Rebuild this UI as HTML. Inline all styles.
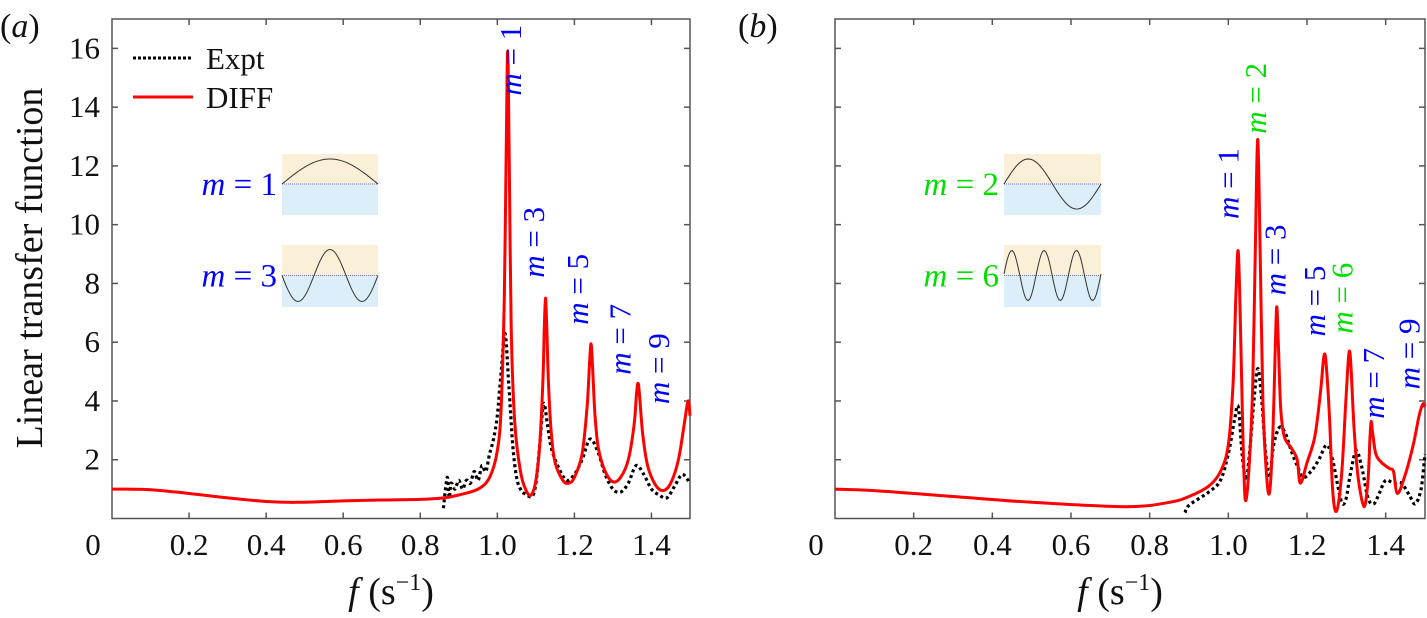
<!DOCTYPE html>
<html><head><meta charset="utf-8">
<style>
html,body{margin:0;padding:0;background:#fff;}
svg{display:block;}
svg text{font-family:"Liberation Serif","Times New Roman",serif;}
</style></head>
<body>
<svg id="fig" width="1427" height="618" viewBox="0 0 1427 618" xmlns="http://www.w3.org/2000/svg" font-family="Liberation Serif, serif">
</svg>
<script>
// ---- data ----
const xTicks = [0, 0.2, 0.4, 0.6, 0.8, 1.0, 1.2, 1.4];
const xTickLabels = ["0", "0.2", "0.4", "0.6", "0.8", "1.0", "1.2", "1.4"];
const yTicks = [2, 4, 6, 8, 10, 12, 14, 16];
const yTickLabels = ["2", "4", "6", "8", "10", "12", "14", "16"];

const aDiffF = [0,0.1,0.2,0.3,0.4,0.48,0.6,0.7,0.8,0.86,0.9,0.95,0.98,1.0,1.01,1.018,1.023,1.027,1.031,1.036,1.045,1.06,1.075,1.088,1.1,1.11,1.118,1.122,1.125,1.128,1.133,1.14,1.15,1.17,1.185,1.2,1.22,1.233,1.239,1.243,1.247,1.253,1.262,1.28,1.3,1.32,1.34,1.355,1.361,1.365,1.369,1.377,1.39,1.41,1.43,1.45,1.47,1.485,1.495,1.5];
const aDiffV = [1.0,0.98,0.85,0.7,0.58,0.55,0.6,0.63,0.65,0.7,0.8,1.0,1.4,2.3,3.8,7.5,12.5,15.9,12,6.5,3.3,1.6,0.95,0.8,1.3,2.5,4.6,6.5,7.5,6.6,4.5,2.9,1.9,1.3,1.2,1.4,2.2,3.8,5.2,5.95,5.2,3.6,2.4,1.6,1.25,1.4,2.0,3.2,4.2,4.6,4.2,2.9,1.8,1.15,0.95,1.2,2.0,3.2,4.0,3.5];
const aExptF = [0.86,0.87,0.875,0.88,0.89,0.9,0.91,0.92,0.93,0.94,0.95,0.96,0.97,0.98,0.99,1.0,1.01,1.02,1.03,1.04,1.05,1.06,1.07,1.09,1.1,1.11,1.12,1.13,1.14,1.16,1.18,1.2,1.22,1.24,1.26,1.28,1.3,1.32,1.34,1.36,1.38,1.4,1.42,1.44,1.46,1.48,1.5];
const aExptV = [0.35,1.4,0.7,1.2,1.0,1.3,1.0,1.3,1.2,1.6,1.3,1.8,1.6,2.2,2.7,3.5,5,6.3,4.5,2.5,1.4,1.0,0.85,0.75,1.2,2.5,3.9,3.2,2.4,1.7,1.3,1.5,2.0,2.7,2.3,1.5,1.0,0.9,1.2,1.8,1.5,1.0,0.8,0.7,1.1,1.5,1.2];

const bDiffF = [0,0.1,0.3,0.5,0.74,0.85,0.9,0.95,0.98,1.0,1.012,1.019,1.025,1.031,1.037,1.043,1.052,1.062,1.069,1.075,1.081,1.088,1.097,1.105,1.113,1.119,1.123,1.127,1.133,1.142,1.16,1.175,1.183,1.2,1.22,1.235,1.241,1.245,1.249,1.257,1.265,1.275,1.288,1.298,1.304,1.308,1.312,1.32,1.33,1.345,1.355,1.36,1.363,1.367,1.375,1.39,1.41,1.42,1.43,1.45,1.47,1.485,1.495,1.5];
const bDiffV = [1.0,0.95,0.75,0.55,0.4,0.55,0.75,1.1,1.6,2.5,4.6,7.5,9.1,6.5,2.8,0.65,1.6,4.5,9.5,12.9,9.0,4.0,1.5,0.9,2.8,5.6,7.2,6.0,3.8,2.8,2.4,2.0,1.2,1.9,2.8,4.4,5.3,5.6,5.2,3.5,1.0,0.25,1.5,3.8,5.2,5.7,5.1,3.0,1.4,0.4,1.3,2.7,3.3,2.9,2.2,1.9,1.7,1.6,0.85,1.5,2.5,3.5,3.9,3.8];
const bExptF = [0.89,0.9,0.95,0.98,1.0,1.015,1.025,1.035,1.045,1.055,1.065,1.075,1.085,1.095,1.105,1.115,1.13,1.145,1.16,1.175,1.19,1.21,1.23,1.25,1.265,1.28,1.29,1.3,1.31,1.325,1.34,1.355,1.37,1.385,1.4,1.42,1.44,1.46,1.475,1.49,1.5];
const bExptV = [0.2,0.45,0.9,1.3,2.2,3.3,3.8,2.2,1.3,2.4,4,5.1,4,2.2,1.4,2.5,3.1,2.9,2.3,1.8,1.4,1.6,2.0,2.5,2.0,1.0,0.5,0.7,1.5,2.3,1.7,0.7,0.5,0.9,1.3,1.2,1.2,0.8,0.5,1.0,2.2];

const aModeLabels = ["1","3","5","7","9"];
const aModeF = [1.035,1.095,1.21,1.32,1.42];
const aModeY = [15.6,9.4,7.8,6.1,5.1];
const bModeLabels = ["1","2","3","5","6","7","9"];
const bModeF = [1.0,1.07,1.12,1.22,1.29,1.37,1.46];
const bModeY = [11.4,14.3,8.8,7.4,7.5,4.6,5.6];
const bModeColors = ["blue","#00e000","blue","blue","#00e000","blue","blue"];

// ---- drawing ----
const NS = "http://www.w3.org/2000/svg";
const svg = document.getElementById("fig");
function mk(tag, attrs, parent) {
  const e = document.createElementNS(NS, tag);
  for (const k in attrs) e.setAttribute(k, attrs[k]);
  (parent || svg).appendChild(e);
  return e;
}
const FONT = "Liberation Serif, Times New Roman, serif";
const Y0 = 518.5, YTOP = 19, YMAX = 17;

function smoothPath(P) {
  let d = "M" + P[0][0].toFixed(1) + "," + P[0][1].toFixed(1);
  for (let i = 0; i < P.length - 1; i++) {
    const p0 = P[Math.max(0, i-1)], p1 = P[i], p2 = P[i+1], p3 = P[Math.min(P.length-1, i+2)];
    const k = 1/6;
    const c1 = [p1[0] + (p2[0]-p0[0])*k, p1[1] + (p2[1]-p0[1])*k];
    const c2 = [p2[0] - (p3[0]-p1[0])*k, p2[1] - (p3[1]-p1[1])*k];
    d += "C" + c1[0].toFixed(1) + "," + c1[1].toFixed(1) + " " + c2[0].toFixed(1) + "," + c2[1].toFixed(1) + " " + p2[0].toFixed(1) + "," + p2[1].toFixed(1);
  }
  return d;
}

function panel(id, left, right, diffF, diffV, exptF, exptV, showY) {
  const g = mk("g", {});
  
  
  const xs = f => left + (right - left) * f / 1.5;
  const ys = v => Y0 - (Y0 - YTOP) * v / YMAX;
  const fr = mk("rect", {x:left, y:YTOP, width:right-left, height:Y0-YTOP, fill:"none", stroke:"#555", "stroke-width":1.5}, g);
  
  
  xTicks.forEach((t, i) => {
    const x = xs(t);
    if (i > 0) {
      mk("line", {x1:x, x2:x, y1:Y0, y2:Y0-6, stroke:"#555", "stroke-width":1.5}, g);
      mk("line", {x1:x, x2:x, y1:YTOP, y2:YTOP+6, stroke:"#555", "stroke-width":1.5}, g);
    }
    const tl = mk("text", {x: i === 0 ? x - 19 : x, y: 555, "font-size":31, "font-family":FONT, "text-anchor":"middle", fill:"#111"}, g);
    tl.textContent = xTickLabels[i];
    
    
  });
  yTicks.forEach((t, i) => {
    const y = ys(t);
    mk("line", {x1:left, x2:left+6, y1:y, y2:y, stroke:"#555", "stroke-width":1.5}, g);
    mk("line", {x1:right, x2:right-6, y1:y, y2:y, stroke:"#555", "stroke-width":1.5}, g);
    if (showY) {
      const tl = mk("text", {x:100, y:y+10, "font-size":31, "font-family":FONT, "text-anchor":"end", fill:"#111"}, g);
      tl.textContent = yTickLabels[i];
      
      
    }
  });
  const xt = mk("text", {x:(left+right)/2 - 10, y:604, "font-size":38, "font-family":FONT, "text-anchor":"middle", fill:"#111"}, g);
  xt.innerHTML = '<tspan font-style="italic">f</tspan> (s<tspan dy="-14" font-size="24">−1</tspan><tspan dy="14">)</tspan>';
  
  
  const pts = (F, V) => F.map((f, i) => [xs(f), ys(V[i])]);
  const ex = mk("path", {d:smoothPath(pts(exptF, exptV)), fill:"none", stroke:"#000", "stroke-width":3.2, "stroke-dasharray":"3 3"}, g);
  
  
  const df = mk("path", {d:smoothPath(pts(diffF, diffV)), fill:"none", stroke:"#f00", "stroke-width":3, "stroke-linejoin":"round"}, g);
  
  
  return {g, xs, ys};
}

function modeLabel(parent, x, y, n, color) {
  x += 10;
  const t = mk("text", {x:x, y:y, "font-size":31, "font-family":FONT, "text-anchor":"middle", fill:color, transform:"rotate(-90 "+x+" "+y+")"}, parent);
  t.innerHTML = '<tspan font-style="italic">m</tspan> = ' + n;
  
  
}

function inset(parent, x, y, w, h, water, fn, amp, label, color) {
  const g = mk("g", {}, parent);
  
  
  mk("rect", {x:x, y:y, width:w, height:water-y, fill:"#faf0d8"}, g);
  mk("rect", {x:x, y:water, width:w, height:y+h-water, fill:"#dbeef9"}, g);
  mk("line", {x1:x, x2:x+w, y1:water, y2:water, stroke:"#7070e0", "stroke-width":1, "stroke-dasharray":"1 1"}, g);
  let d = "";
  for (let i = 0; i <= 60; i++) {
    const u = i / 60;
    d += (i ? "L" : "M") + (x + u*w).toFixed(1) + "," + (water - amp*fn(u)).toFixed(1);
  }
  mk("path", {d:d, fill:"none", stroke:"#333", "stroke-width":1}, g);
  const t = mk("text", {x:x-5, y:water+11, "font-size":33, "font-family":FONT, "text-anchor":"end", fill:color}, g);
  t.innerHTML = '<tspan font-style="italic">m</tspan> = ' + label;
  
  
}

const A = panel("a", 112, 690, aDiffF, aDiffV, aExptF, aExptV, true);
const B = panel("b", 835, 1425, bDiffF, bDiffV, bExptF, bExptV, false);

aModeLabels.forEach((n, i) => modeLabel(A.g, A.xs(aModeF[i]), A.ys(aModeY[i]), n, "blue"));
bModeLabels.forEach((n, i) => modeLabel(B.g, B.xs(bModeF[i]), B.ys(bModeY[i]), n, bModeColors[i]));

inset(A.g, 282, 154, 96, 61, 184, u => Math.sin(Math.PI*u), 25, "1", "blue");
inset(A.g, 282, 245, 96, 62, 275.5, u => -Math.cos(3*Math.PI*(u - 1/6)), 26, "3", "blue");
inset(B.g, 1004, 154, 97, 61, 184, u => Math.sin(2*Math.PI*u), 25, "2", "#00e000");
inset(B.g, 1004, 245, 97, 62, 275.5, u => Math.sin(6*Math.PI*u + 0.06), 25, "6", "#00e000");

const lg = mk("g", {});


const l1 = mk("line", {x1:133, x2:193, y1:58, y2:58, stroke:"#000", "stroke-width":3, "stroke-dasharray":"3 2"}, lg);


const t1 = mk("text", {x:206, y:69, "font-size":31, "font-family":FONT, fill:"#111"}, lg);
t1.textContent = "Expt";


const l2 = mk("line", {x1:133, x2:193, y1:97, y2:97, stroke:"#f00", "stroke-width":3}, lg);


const t2 = mk("text", {x:206, y:108, "font-size":31, "font-family":FONT, fill:"#111"}, lg);
t2.textContent = "DIFF";



const yt = mk("text", {x:42, y:268, "font-size":38, "font-family":FONT, "text-anchor":"middle", fill:"#111", transform:"rotate(-90 42 268)"});
yt.textContent = "Linear transfer function";



const pa = mk("text", {x:0, y:37, "font-size":34, "font-family":FONT, fill:"#111"});
pa.innerHTML = '(<tspan font-style="italic">a</tspan>)';


const pb = mk("text", {x:738, y:37, "font-size":34, "font-family":FONT, fill:"#111"});
pb.innerHTML = '(<tspan font-style="italic">b</tspan>)';


</script>
</body></html>
